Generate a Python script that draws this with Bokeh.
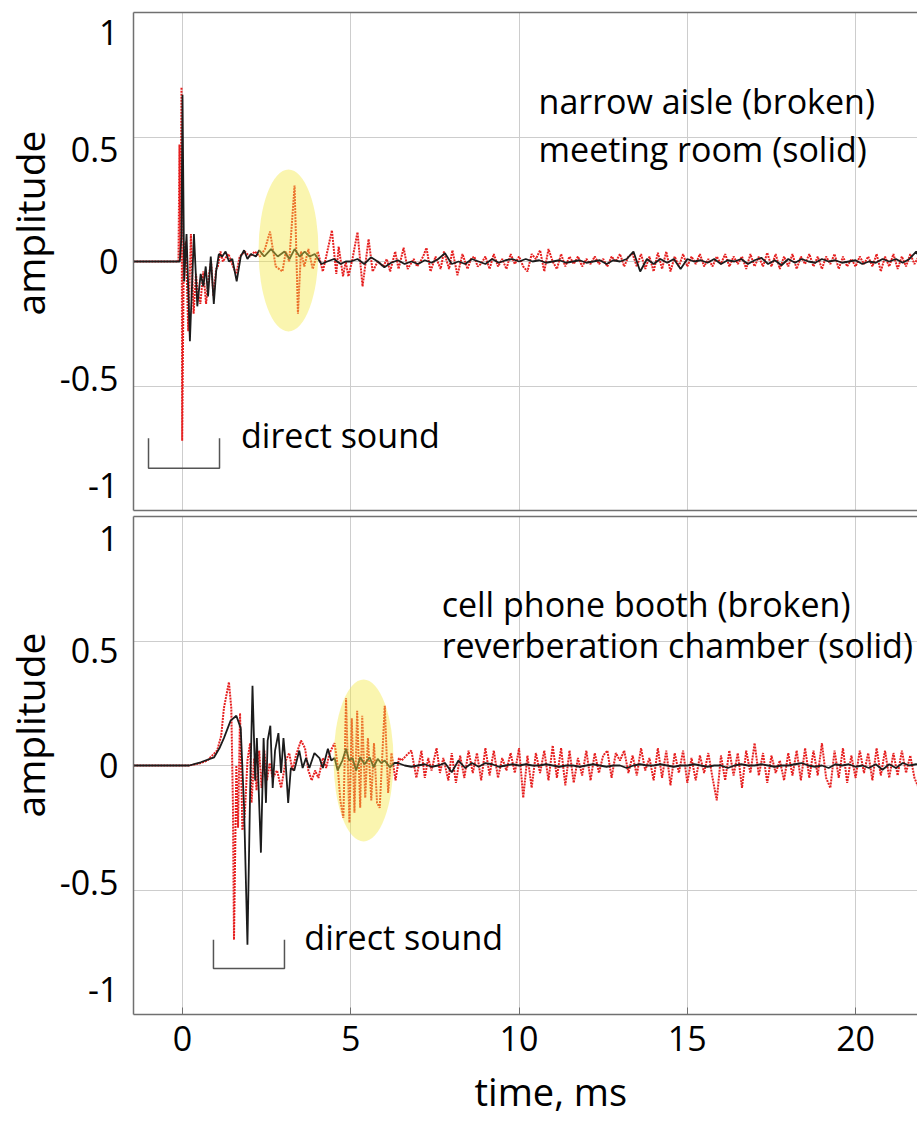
import numpy as np
from bokeh.plotting import figure
from bokeh.layouts import column
from bokeh.models import Range1d, FixedTicker, LinearAxis, Title, CustomJSTickFormatter
from bokeh.core.properties import value
from bokeh.embed import file_html
from bokeh.resources import INLINE

FONT = "Open Sans"

# ---------------- axis / tick definitions ----------------
X_START, X_END = -1.456, 21.84
X_TICKS = [0, 5, 10, 15, 20]
Y_GRID = [-1, -0.5, 0, 0.5, 1]
Y_LABELS = ["1", "0.5", "0", "-0.5", "-1"]
Y_LABEL_POS_TOP = [0.92, 0.45, 0.0, -0.47, -0.90]
Y_LABEL_POS_BOTTOM = [0.91, 0.46, 0.0, -0.47, -0.90]

# ---------------- top panel: narrow aisle (broken) ----------------
aisle_t = [-1.46, -0.12, -0.09, -0.06, -0.03, -0.01, 0.04, 0.10, 0.17, 0.25, 0.33, 0.40, 0.45, 0.53,
           0.62, 0.70, 0.78, 0.85, 0.92, 1.00, 1.05, 1.13, 1.20, 1.25, 1.37, 1.50, 1.60, 1.70, 1.85,
           2.00, 2.15, 2.30, 2.45, 2.60, 2.77, 2.97, 3.07, 3.17, 3.33, 3.43, 3.52, 3.62, 3.74, 3.87,
           4.02, 4.17, 4.27, 4.44, 4.57, 4.64, 4.77, 4.85, 4.93, 5.05, 5.20, 5.35, 5.53, 5.65, 5.80,
           5.97, 6.07, 6.17, 6.32, 6.42, 6.57, 6.69, 6.87, 6.97, 7.07, 7.15, 7.25, 7.37, 7.52, 7.67,
           7.77, 7.92, 8.02, 8.17, 8.32, 8.47, 8.57, 8.67, 8.77, 8.87]
aisle_y = [0, 0, 0.47, 0.02, 0.70, -0.72, 0.05, 0.08, -0.28, 0.11, -0.21, -0.05, -0.12, -0.17,
           -0.04, -0.17, -0.06, 0.00, -0.14, -0.03, -0.02, 0.04, 0.00, 0.01, 0.03, -0.02, -0.05, 0.02, 0.04,
           0.02, 0.04, 0.02, 0.05, 0.12, -0.02, -0.04, 0.04, 0.00, 0.305, -0.21, 0.04, -0.02, 0.05, -0.03,
           0.04, -0.04, 0.02, 0.125, -0.05, 0.06, -0.06, 0.00, -0.06, 0.01, 0.118, -0.10, 0.09, -0.04, 0.00,
           -0.02, 0.01, -0.04, 0.04, -0.03, 0.055, -0.03, 0.01, -0.02, 0.00, 0.02, 0.055, -0.04, 0.02, -0.03,
           0.04, -0.03, 0.045, -0.055, 0.03, -0.03, 0.01, 0.02, -0.02, -0.01]
aisle_tail_start, aisle_tail_step = 9.0, 0.125
aisle_tail = [0.02, -0.03, 0.03, -0.02, 0.01, -0.03, 0.03, -0.01,
              0.02, -0.02, -0.04, 0.03, 0.01, 0.045, -0.04, 0.05,
              0.00, -0.03, 0.03, -0.02, 0.02, -0.01, 0.02, -0.02,
              0.01, -0.01, 0.02, -0.01, 0.01, -0.02, 0.02, 0.00,
              0.03, -0.02, 0.02, 0.03, -0.02, 0.03, -0.03, 0.02,
              -0.04, 0.035, -0.03, 0.04, -0.04, 0.02, -0.02, 0.03,
              -0.02, 0.02, -0.01, 0.03, -0.02, 0.01, -0.02, 0.02,
              -0.01, 0.03, -0.02, 0.02, -0.01, 0.02, -0.03, 0.03,
              -0.02, 0.02, -0.02, 0.035, -0.02, 0.03, -0.03, 0.02,
              -0.02, 0.03, -0.03, 0.02, -0.01, 0.03, -0.02, 0.02,
              -0.03, 0.02, -0.01, 0.03, -0.03, 0.02, -0.02, 0.01,
              -0.02, 0.02, -0.01, 0.02, -0.02, 0.03, -0.04, 0.02,
              -0.02, 0.03, -0.03, 0.02, -0.02, 0.03, -0.01, 0.02,
              0.00]

# ---------------- top panel: meeting room (solid) ----------------
meeting_t = [-1.46, -0.08, -0.03, 0.00, 0.05, 0.12, 0.22, 0.34, 0.44, 0.54, 0.62, 0.69, 0.76, 0.84,
             0.93, 1.00, 1.08, 1.18, 1.28, 1.38, 1.48, 1.61, 1.73, 1.83, 1.93, 2.03, 2.18, 2.28, 2.43,
             2.63, 2.83, 3.03, 3.18, 3.33, 3.48, 3.63, 3.78, 3.93, 4.13, 4.30, 4.50, 4.70, 4.85]
meeting_y = [0, 0, 0.10, 0.67, -0.08, 0.11, -0.32, 0.11, -0.18, -0.05, -0.10, -0.02, -0.14, 0.02,
             -0.17, -0.04, 0.03, 0.02, 0.04, 0.00, 0.01, -0.08, 0.02, 0.045, 0.01, 0.03, 0.02, 0.045, 0.02,
             0.05, 0.02, 0.04, 0.01, 0.05, 0.02, 0.04, 0.02, 0.03, -0.01, 0.00, 0.01, -0.01, 0.00]
meeting_tail_start, meeting_tail_step = 5.0, 0.2
meeting_tail = [0.0, 0.01, -0.01, 0.017, 0.0, -0.023, -0.005, 0.005, -0.01, 0.0,
                -0.01, 0.005, -0.005, 0.01, 0.033, -0.01, 0.0, -0.01, 0.01, 0.0,
                -0.01, 0.01, -0.005, 0.005, 0.01, 0.0, 0.01, 0.0, 0.005, -0.005,
                0.0, 0.005, -0.005, 0.0, 0.005, -0.005, 0.0, 0.005, -0.01, 0.005,
                0.0, 0.01, 0.04, -0.04, 0.01, -0.01, 0.01, -0.005, 0.01, -0.03,
                0.01, 0.0, 0.005, -0.005, 0.01, -0.01, 0.005, 0.0, 0.01, -0.01,
                0.005, 0.015, -0.01, 0.005, -0.015, 0.01, -0.005, 0.01, 0.0, -0.005,
                0.01, 0.0, 0.005, -0.005, 0.0, 0.005, -0.01, 0.0, -0.005, 0.01,
                0.0, 0.01, -0.005, 0.01, 0.04, -0.01]

# ---------------- bottom panel: cell phone booth (broken) ----------------
booth_t = [-1.46, 0.20, 0.50, 0.74, 1.03, 1.15, 1.23, 1.38, 1.45, 1.50, 1.53, 1.60, 1.65, 1.71, 1.78,
           1.85, 1.93, 2.01, 2.05, 2.13, 2.20, 2.28, 2.35, 2.43, 2.51, 2.59, 2.68, 2.81, 2.93, 3.07,
           3.17, 3.27, 3.37, 3.52, 3.64, 3.74, 3.84, 3.94, 4.04, 4.17, 4.27, 4.37, 4.52, 4.61, 4.69,
           4.78, 4.86, 4.96, 5.03, 5.11, 5.19, 5.28, 5.34, 5.43, 5.51, 5.61, 5.69, 5.78, 5.86, 6.01,
           6.11, 6.21, 6.33, 6.43, 6.51, 6.65, 6.80, 6.95, 7.10, 7.20, 7.30, 7.40, 7.55, 7.65, 7.75, 7.90]
booth_y = [0, 0, 0.008, 0.02, 0.06, 0.12, 0.23, 0.335, 0.23, -0.17, -0.70, 0.00, -0.25, 0.21, -0.26,
           -0.20, 0.02, 0.09, -0.15, 0.03, -0.10, 0.06, -0.09, 0.06, -0.06, 0.01, -0.05, -0.02, -0.09, 0.02,
           0.05, -0.02, 0.04, 0.10, 0.07, -0.02, -0.06, -0.02, -0.05, 0.03, -0.01, 0.05, 0.09, 0.00, -0.14,
           -0.21, 0.27, -0.23, 0.19, -0.19, 0.22, -0.17, 0.20, -0.13, 0.11, -0.14, 0.09, -0.15, -0.17, 0.24,
           -0.11, 0.05, -0.06, 0.03, 0.02, 0.04, 0.06, -0.05, 0.06, -0.05, 0.03, -0.02, 0.07, -0.03, 0.03, -0.06]
booth_tail_start, booth_tail_step = 8.0, 0.125
booth_tail = [0.05, -0.07, 0.04, -0.05, 0.06, -0.03, 0.05, -0.06,
              0.07, -0.04, 0.06, -0.05, 0.03, -0.02, 0.05, -0.03,
              0.07, -0.13, 0.04, -0.09, 0.05, -0.03, 0.06, -0.06,
              0.08, -0.05, 0.07, -0.08, 0.06, -0.07, 0.03, -0.04,
              0.06, -0.06, 0.05, -0.03, 0.04, 0.06, -0.05, 0.05,
              0.02, 0.06, -0.03, 0.04, -0.04, 0.07, -0.02, 0.03,
              -0.06, 0.07, -0.05, 0.06, -0.08, 0.05, -0.03, 0.06,
              -0.07, 0.03, -0.06, 0.04, -0.03, 0.05, -0.05, -0.14,
              0.04, -0.06, 0.06, -0.04, 0.05, -0.09, 0.06, -0.03,
              0.09, -0.04, 0.05, -0.07, 0.04, -0.03, 0.02, -0.06,
              0.05, -0.04, 0.06, -0.06, 0.07, -0.05, 0.06, -0.04,
              0.09, -0.05, -0.09, 0.06, -0.05, 0.07, -0.07, 0.04,
              -0.05, 0.06, -0.03, 0.05, -0.06, 0.07, -0.04, 0.06,
              -0.05, 0.05, -0.04, 0.06, -0.03, 0.04, -0.05, -0.09,
              -0.06]

# ---------------- bottom panel: reverberation chamber (solid) ----------------
chamber_t = [-1.46, 0.20, 0.54, 0.94, 1.10, 1.23, 1.43, 1.60, 1.73, 1.83, 1.93, 2.01, 2.08, 2.16, 2.21,
             2.33, 2.41, 2.48, 2.53, 2.61, 2.68, 2.75, 2.85, 2.93, 3.00, 3.07, 3.14, 3.22, 3.32, 3.47,
             3.57, 3.67, 3.77, 3.92, 4.07, 4.17, 4.32, 4.42, 4.52, 4.61, 4.75, 4.86, 4.95, 5.05, 5.16,
             5.28, 5.41, 5.56, 5.68, 5.80, 5.90, 6.01, 6.16, 6.30]
chamber_y = [0, 0, 0.013, 0.033, 0.07, 0.11, 0.18, 0.20, 0.15, -0.17, -0.72, -0.10, 0.32, -0.06, 0.11,
             -0.35, 0.11, -0.15, 0.10, 0.16, -0.09, 0.06, 0.13, -0.03, 0.11, 0.00, -0.15, -0.01, -0.02, 0.06,
             -0.01, 0.03, -0.01, 0.05, 0.03, -0.01, 0.067, 0.02, 0.03, -0.02, 0.02, 0.067, 0.02, 0.03, -0.02,
             0.033, 0.005, 0.033, -0.007, 0.027, 0.01, 0.02, -0.007, 0.01]
chamber_tail_start, chamber_tail_step = 6.4, 0.2
chamber_tail = [0.01, 0.0, -0.005, 0.0, 0.005, -0.005, 0.0, 0.01, -0.027, 0.02,
                -0.01, 0.01, -0.005, 0.01, 0.005, -0.005, 0.0, 0.005, 0.0, 0.005,
                0.0, 0.0, 0.005, 0.0, -0.005, 0.0, 0.0, -0.005, 0.0, 0.005,
                0.0, -0.005, 0.0, 0.0, -0.01, 0.0, 0.005, 0.0, 0.0, 0.005,
                0.0, -0.005, 0.0, 0.0, 0.005, 0.0, -0.005, 0.0, 0.0, -0.01,
                0.0, 0.005, 0.0, 0.0, 0.005, 0.0, -0.005, 0.0, 0.0, 0.005,
                0.01, 0.0, -0.005, 0.0, -0.01, 0.005, 0.0, 0.005, -0.005, 0.0,
                -0.01, 0.005, -0.017, 0.005, -0.01, 0.01, 0.0, 0.005, 0.0]

# ---------------- annotations ----------------
top_notes = ["narrow aisle (broken)", "meeting room (solid)"]
top_notes_x, top_notes_y = [10.58, 10.58], [0.646, 0.452]
bottom_notes = ["cell phone booth (broken)", "reverberation chamber (solid)"]
bottom_notes_x, bottom_notes_y = [7.70, 7.70], [0.650, 0.482]
direct_top = (1.74, -0.697)
direct_bottom = (3.62, -0.690)
bracket_top = ([-1.01, -1.01, 1.10, 1.10], [-0.71, -0.83, -0.83, -0.71])
bracket_bottom = ([0.92, 0.92, 3.03, 3.03], [-0.70, -0.815, -0.815, -0.70])
ellipse_top = dict(x=3.15, y=0.044, width=1.78, height=0.65)
ellipse_bottom = dict(x=5.38, y=0.02, width=1.78, height=0.65)

RED = "#e62020"
BLACK = "#1c1c1c"
FRAME = "#707070"
GRID = "#cdcdcd"
YELLOW = "#f4e640"


def series(t_early, y_early, tail_start, tail_step, tail):
    t = list(t_early) + list(tail_start + tail_step * np.arange(len(tail)))
    y = list(y_early) + list(tail)
    return t, y


def hidden_axis(ax):
    # frame edge only: an axis line with no ticks and no labels
    ax.ticker = FixedTicker(ticks=[])
    ax.major_label_text_font_size = "0px"
    ax.major_label_standoff = 0
    ax.major_tick_in = 0
    ax.major_tick_out = 0
    ax.minor_tick_in = 0
    ax.minor_tick_out = 0
    ax.axis_line_color = FRAME
    ax.axis_line_width = 1.5


def make_panel(height, border_top, border_bottom, label_pos, label_offset, show_x):
    p = figure(width=917, height=height, x_range=Range1d(X_START, X_END), y_range=Range1d(-1, 1),
               output_backend="svg", toolbar_location=None,
               min_border_left=133, min_border_right=0,
               min_border_top=border_top, min_border_bottom=border_bottom)
    p.outline_line_color = None
    p.xgrid.ticker = FixedTicker(ticks=X_TICKS)
    p.ygrid.ticker = FixedTicker(ticks=Y_GRID)
    for g in (p.xgrid[0], p.ygrid[0]):
        g.grid_line_color = GRID
        g.grid_line_width = 1

    ya = p.yaxis[0]
    ya.ticker = FixedTicker(ticks=label_pos)
    ya.formatter = CustomJSTickFormatter(
        args=dict(pos=label_pos, lab=Y_LABELS),
        code="const i = pos.findIndex(v => Math.abs(v - tick) < 1e-6); return i >= 0 ? lab[i] : '';")
    ya.major_label_text_font = FONT
    ya.major_label_text_font_size = "34px"
    ya.major_label_text_color = "black"
    ya.major_label_standoff = 15
    ya.major_tick_in = 0
    ya.major_tick_out = 0
    ya.minor_tick_in = 0
    ya.minor_tick_out = 0
    ya.axis_line_color = FRAME
    ya.axis_line_width = 1.5

    xa = p.xaxis[0]
    if show_x:
        xa.ticker = FixedTicker(ticks=X_TICKS)
        xa.major_label_text_font = FONT
        xa.major_label_text_font_size = "34px"
        xa.major_label_text_color = "black"
        xa.major_label_standoff = 11
        xa.major_tick_in = 7
        xa.major_tick_out = 0
        xa.major_tick_line_color = FRAME
        xa.minor_tick_in = 0
        xa.minor_tick_out = 0
        xa.axis_line_color = FRAME
        xa.axis_line_width = 1.5
    else:
        hidden_axis(xa)

    top_axis = LinearAxis()
    hidden_axis(top_axis)
    p.add_layout(top_axis, "above")

    p.add_layout(Title(text="amplitude", align="left", offset=label_offset, text_font=FONT,
                       text_font_size="39px", text_font_style="normal", text_color="black",
                       standoff=1), "left")
    return p


# ---------------- top figure ----------------
p1 = make_panel(513, 12, 3, Y_LABEL_POS_TOP, 195, False)
ta, ya_ = series(aisle_t, aisle_y, aisle_tail_start, aisle_tail_step, aisle_tail)
tm, ym = series(meeting_t, meeting_y, meeting_tail_start, meeting_tail_step, meeting_tail)
p1.line(ta, ya_, line_color=RED, line_width=2, line_dash="2 1")
p1.line(tm, ym, line_color=BLACK, line_width=1.8)
p1.ellipse(**ellipse_top, fill_color=YELLOW, fill_alpha=0.42, line_color=None)
p1.line(bracket_top[0], bracket_top[1], line_color="#555555", line_width=1.5)
p1.text(top_notes_x, top_notes_y, text=top_notes, text_font=value(FONT), text_font_size="34px",
        text_color="black", text_align="left", text_baseline="alphabetic")
p1.text([direct_top[0]], [direct_top[1]], text=["direct sound"], text_font=value(FONT),
        text_font_size="34px", text_color="black", text_align="left", text_baseline="alphabetic")

# ---------------- bottom figure ----------------
p2 = make_panel(613, 3, 112, Y_LABEL_POS_BOTTOM, 197, True)
tb, yb = series(booth_t, booth_y, booth_tail_start, booth_tail_step, booth_tail)
tc, yc = series(chamber_t, chamber_y, chamber_tail_start, chamber_tail_step, chamber_tail)
p2.line(tb, yb, line_color=RED, line_width=2, line_dash="2 1")
p2.line(tc, yc, line_color=BLACK, line_width=1.8)
p2.ellipse(**ellipse_bottom, fill_color=YELLOW, fill_alpha=0.42, line_color=None)
p2.line(bracket_bottom[0], bracket_bottom[1], line_color="#555555", line_width=1.5)
p2.text(bottom_notes_x, bottom_notes_y, text=bottom_notes, text_font=value(FONT), text_font_size="34px",
        text_color="black", text_align="left", text_baseline="alphabetic")
p2.text([direct_bottom[0]], [direct_bottom[1]], text=["direct sound"], text_font=value(FONT),
        text_font_size="34px", text_color="black", text_align="left", text_baseline="alphabetic")
p2.add_layout(Title(text="time, ms", align="left", offset=341, text_font=FONT,
                    text_font_size="38px", text_font_style="normal", text_color="black",
                    standoff=19), "below")

layout = column(p1, p2, spacing=0)
open("out.html", "w").write(file_html(layout, INLINE))
